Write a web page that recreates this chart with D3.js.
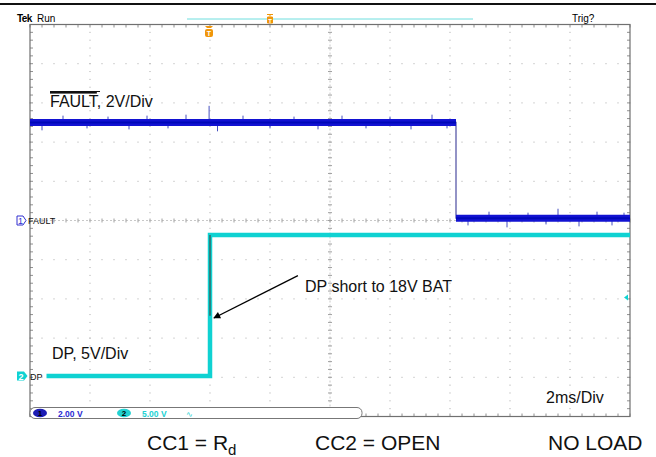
<!DOCTYPE html>
<html><head><meta charset="utf-8">
<script src="https://cdn.jsdelivr.net/npm/d3@7"></script>
<style>
html,body{margin:0;padding:0;background:#fff;}
svg{display:block;}
text{font-family:"Liberation Sans",Arial,sans-serif;}
</style></head>
<body><svg id="c" width="656" height="457"></svg>
<script>
// ---------------- data ----------------
// time axis: 2 ms/div, 10 divisions (ms)
const timeDomain = [0, 20];
const verticalDivs = [-5, 5];
// FAULT (CH1, 2 V/div) step: high then drops low
const faultTime = [0, 14.2, 14.2, 20];
const faultVolt = [5.0, 5.0, 0.12, 0.12];
// glitch spikes on FAULT trace (time ms, peak volts)
const faultSpikeTime = [0.4, 1.1, 1.9, 2.6, 3.3, 3.9, 4.6, 5.2, 5.97, 6.25, 7.1, 8.0, 8.8, 9.6, 10.4, 11.2, 12.0, 12.7, 13.4, 13.9,
                        14.6, 15.3, 15.9, 16.6, 17.2, 17.6, 18.3, 18.9, 19.4, 19.8];
const faultSpikeVolt = [4.6, 5.35, 4.7, 5.3, 4.65, 5.35, 4.7, 5.4, 5.85, 4.55, 5.35, 4.7, 5.3, 4.65, 5.35, 4.7, 5.3, 4.65, 5.4, 4.7,
                        -0.25, 0.45, -0.35, 0.4, -0.2, 0.6, -0.3, 0.45, -0.25, 0.4];
// DP (CH2, 5 V/div) step: low, then shorted to 18 V
const dpTime = [0.55, 6.0, 6.0, 20];
const dpVolt = [0.0, 0.0, 18.0, 18.0];
// dark (fast) part of the DP rising edge
const dpEdgeTime = [6.0, 6.0];
const dpEdgeVolt = [18.0, 7.7];
// annotation arrow (time ms, CH2 volts): tail -> head
const arrowTime = [8.93, 6.13];
const arrowVolt = [12.8, 7.4];
// channel settings
const chLabels = ["FAULT", "DP"];
const chScales = ["2.00 V", "5.00 V"];
const annotations = ["FAULT, 2V/Div", "DP, 5V/Div", "DP short to 18V BAT", "2ms/Div"];
const footer = ["CC1 = R", "CC2 = OPEN", "NO LOAD"];

// ---------------- layout ----------------
const svg = d3.select("#c");
const L = 30, R = 630, T = 24.5, B = 416.5;
const x = d3.scaleLinear().domain(timeDomain).range([L, R]);
const yDiv = d3.scaleLinear().domain(verticalDivs).range([B, T]);
const divH = (B - T) / 10;
const ch1Ground = yDiv(0);
const y1 = d3.scaleLinear().domain([0, 2]).range([ch1Ground, ch1Ground - divH]);
const ch2Ground = 376;
const y2 = d3.scaleLinear().domain([0, 5]).range([ch2Ground, ch2Ground - divH]);

const BLUE = "#1212d2", BLUE_L = "#4650c0", CYAN = "#0fd2d2", ORANGE = "#f0960a";

// top rule
svg.append("line").attr("x1", 0).attr("x2", 656).attr("y1", 4).attr("y2", 4)
  .attr("stroke", "#111").attr("stroke-width", 2);

// ---------------- graticule ----------------
const g = svg.append("g");
const majX = d3.range(0, 21, 2), majY = d3.range(-5, 6, 1);
const minX = d3.range(0, 20.001, 0.4), minY = d3.range(-5, 5.001, 0.2);
// dotted rows
majY.slice(1, -1).forEach(d => {
  if (d === 0) return;
  minX.forEach(t => g.append("rect").attr("x", x(t) - 0.5).attr("y", yDiv(d) - 0.5)
    .attr("width", 1).attr("height", 1).attr("fill", "#a8a8a8"));
});
majX.slice(1, -1).forEach(t => {
  if (t === 10) return;
  minY.forEach(d => g.append("rect").attr("x", x(t) - 0.5).attr("y", yDiv(d) - 0.5)
    .attr("width", 1).attr("height", 1).attr("fill", "#a8a8a8"));
});
// center cross with ticks
g.append("line").attr("x1", L).attr("x2", R).attr("y1", yDiv(0)).attr("y2", yDiv(0))
  .attr("stroke", "#c8c8c8").attr("stroke-dasharray", "2,2");
g.append("line").attr("x1", x(10)).attr("x2", x(10)).attr("y1", T).attr("y2", B)
  .attr("stroke", "#c8c8c8").attr("stroke-dasharray", "2,2");
minX.forEach(t => g.append("line").attr("x1", x(t)).attr("x2", x(t))
  .attr("y1", yDiv(0) - 2).attr("y2", yDiv(0) + 2).attr("stroke", "#a0a0a0"));
minY.forEach(d => g.append("line").attr("y1", yDiv(d)).attr("y2", yDiv(d))
  .attr("x1", x(10) - 2).attr("x2", x(10) + 2).attr("stroke", "#a0a0a0"));
// edge ticks
minX.forEach(t => {
  g.append("line").attr("x1", x(t)).attr("x2", x(t)).attr("y1", T).attr("y2", T + 3).attr("stroke", "#909090");
  g.append("line").attr("x1", x(t)).attr("x2", x(t)).attr("y1", B).attr("y2", B - 3).attr("stroke", "#909090");
});
minY.forEach(d => {
  g.append("line").attr("y1", yDiv(d)).attr("y2", yDiv(d)).attr("x1", L).attr("x2", L + 3).attr("stroke", "#909090");
  g.append("line").attr("y1", yDiv(d)).attr("y2", yDiv(d)).attr("x1", R).attr("x2", R - 3).attr("stroke", "#909090");
});
// frame
g.append("rect").attr("x", L).attr("y", T).attr("width", R - L).attr("height", B - T)
  .attr("fill", "none").attr("stroke", "#707070").attr("stroke-width", 1.2);

// ---------------- traces ----------------
const f = faultTime.map((t, i) => [t, faultVolt[i]]);
const dp = dpTime.map((t, i) => [t, dpVolt[i]]);
const line1 = d3.line().x(d => x(d[0])).y(d => y1(d[1]));
const line2 = d3.line().x(d => x(d[0])).y(d => y2(d[1]));

// FAULT: thin vertical edge, thick noisy bands
svg.append("path").attr("d", line1(f)).attr("fill", "none").attr("stroke", "#5a5aa8").attr("stroke-width", 1.3);
svg.append("g").selectAll("line").data(faultSpikeTime).join("line")
  .attr("x1", d => x(d)).attr("x2", d => x(d))
  .attr("y1", (d, i) => y1(faultSpikeVolt[i]))
  .attr("y2", (d, i) => y1(d < 14.2 ? faultVolt[0] : faultVolt[3]))
  .attr("stroke", BLUE_L).attr("stroke-width", 1);
[[f[0], f[1]], [f[2], f[3]]].forEach(seg => {
  svg.append("path").attr("d", line1(seg)).attr("fill", "none").attr("stroke", BLUE).attr("stroke-width", 7);
  svg.append("path").attr("d", line1(seg)).attr("fill", "none").attr("stroke", "#0008b8").attr("stroke-width", 2);
});

// DP
svg.append("path").attr("d", line2(dp)).attr("fill", "none").attr("stroke", CYAN).attr("stroke-width", 4.5);
svg.append("path").attr("d", line2(dpEdgeTime.map((t, i) => [t, dpEdgeVolt[i]])))
  .attr("fill", "none").attr("stroke", "#2f6e6e").attr("stroke-width", 1.6);

// ---------------- arrow ----------------
svg.append("defs").append("marker").attr("id", "ah").attr("viewBox", "0 0 10 10")
  .attr("refX", 9).attr("refY", 5).attr("markerWidth", 9).attr("markerHeight", 7)
  .attr("markerUnits", "userSpaceOnUse").attr("orient", "auto")
  .append("path").attr("d", "M0,0 L10,5 L0,10 Z").attr("fill", "#000");
svg.append("line").attr("x1", x(arrowTime[0])).attr("y1", y2(arrowVolt[0]))
  .attr("x2", x(arrowTime[1])).attr("y2", y2(arrowVolt[1]))
  .attr("stroke", "#000").attr("stroke-width", 1.3).attr("marker-end", "url(#ah)");

// ---------------- scope chrome ----------------
svg.append("text").attr("x", 17).attr("y", 22).attr("font-size", 10).attr("font-weight", "bold")
  .attr("letter-spacing", -0.6).text("Tek");
svg.append("text").attr("x", 37).attr("y", 22).attr("font-size", 10).text("Run");
svg.append("text").attr("x", 572).attr("y", 22).attr("font-size", 10).text("Trig?");
svg.append("line").attr("x1", 187).attr("x2", 473).attr("y1", 19).attr("y2", 19).attr("stroke", "#6fdede").attr("stroke-width", 1);
// orange markers
svg.append("path").attr("d", "M267,14.5 h6 M270,14.5 v2 M267.5,17 h5 v6 h-5 Z").attr("fill", ORANGE).attr("stroke", ORANGE).attr("stroke-width", 1);
svg.append("text").attr("x", 270).attr("y", 22.5).attr("font-size", 6).attr("font-weight", "bold").attr("text-anchor", "middle").attr("fill", "#fff").text("T");
svg.append("path").attr("d", "M205,26 h8 l-2,2 h-4 Z").attr("fill", ORANGE);
svg.append("rect").attr("x", 205).attr("y", 29).attr("width", 8).attr("height", 8).attr("rx", 2).attr("fill", ORANGE);
svg.append("text").attr("x", 209).attr("y", 35.5).attr("font-size", 7).attr("font-weight", "bold").attr("text-anchor", "middle").attr("fill", "#fff").text("T");

// channel ground markers
svg.append("path").attr("d", `M17,${ch1Ground - 4.5} h6 l3,4.5 l-3,4.5 h-6 Z`).attr("fill", "#fff").attr("stroke", "#3030d0").attr("stroke-width", 1);
svg.append("text").attr("x", 20.5).attr("y", ch1Ground + 3.5).attr("font-size", 9).attr("text-anchor", "middle").attr("fill", "#3030d0").text("1");
svg.append("text").attr("x", 28).attr("y", ch1Ground + 3.5).attr("font-size", 9).attr("fill", "#111").text(chLabels[0]);
svg.append("path").attr("d", `M17,${ch2Ground - 4.5} h7 l3.5,4.5 l-3.5,4.5 h-7 Z`).attr("fill", CYAN);
svg.append("text").attr("x", 21).attr("y", ch2Ground + 3.5).attr("font-size", 9).attr("font-weight", "bold").attr("text-anchor", "middle").attr("fill", "#fff").text("2");
svg.append("text").attr("x", 30).attr("y", ch2Ground + 3.5).attr("font-size", 9).attr("fill", "#111").text(chLabels[1]);
// CH2 trigger level marker on right edge
svg.append("path").attr("d", `M${R - 6},${y2(10)} l4,-3 v6 Z`).attr("fill", CYAN);

// status bar
svg.append("rect").attr("x", 30).attr("y", 407.5).attr("width", 332).attr("height", 11).attr("rx", 5)
  .attr("fill", "#fff").attr("stroke", "#777").attr("stroke-width", 1);
svg.append("ellipse").attr("cx", 40).attr("cy", 413).attr("rx", 7).attr("ry", 4.3).attr("fill", "#1c1cb4");
svg.append("text").attr("x", 40).attr("y", 416).attr("font-size", 8).attr("font-weight", "bold").attr("text-anchor", "middle").attr("fill", "#000").text("1");
svg.append("text").attr("x", 58).attr("y", 416.5).attr("font-family", "DejaVu Sans Mono").attr("font-size", 8.5).attr("font-weight", "bold").attr("fill", "#2a2ad2").text(chScales[0]);
svg.append("ellipse").attr("cx", 124).attr("cy", 413).attr("rx", 7).attr("ry", 4.3).attr("fill", "#22d2d2");
svg.append("text").attr("x", 124).attr("y", 416).attr("font-size", 8).attr("font-weight", "bold").attr("text-anchor", "middle").attr("fill", "#000").text("2");
svg.append("text").attr("x", 142).attr("y", 416.5).attr("font-family", "DejaVu Sans Mono").attr("font-size", 8.5).attr("font-weight", "bold").attr("fill", "#22d2d2").text(chScales[1]);
svg.append("text").attr("x", 186).attr("y", 416.5).attr("font-size", 8).attr("fill", "#22d2d2").text("∿");

// ---------------- annotations ----------------
const fl = svg.append("text").attr("x", 50).attr("y", 107).attr("font-size", 16).attr("fill", "#111");
fl.append("tspan").attr("text-decoration", "overline").text("FAULT");
fl.append("tspan").text(annotations[0].slice(5));
svg.append("line").attr("x1", 50).attr("x2", 100).attr("y1", 91.5).attr("y2", 91.5).attr("stroke", "#111").attr("stroke-width", 1.2);
svg.append("text").attr("x", 52).attr("y", 359).attr("font-size", 16).attr("fill", "#111").text(annotations[1]);
svg.append("text").attr("x", 305).attr("y", 292).attr("font-size", 16).attr("fill", "#111").text(annotations[2]);
svg.append("text").attr("x", 546).attr("y", 403).attr("font-size", 16).attr("fill", "#111").text(annotations[3]);

// footer
const ft = svg.append("text").attr("x", 147).attr("y", 450).attr("font-size", 21).attr("fill", "#111");
ft.append("tspan").text(footer[0]);
ft.append("tspan").attr("font-size", 15).attr("dy", 5).text("d");
svg.append("text").attr("x", 315).attr("y", 450).attr("font-size", 21).attr("fill", "#111").text(footer[1]);
svg.append("text").attr("x", 548).attr("y", 450).attr("font-size", 21).attr("fill", "#111").text(footer[2]);
</script></body></html>
